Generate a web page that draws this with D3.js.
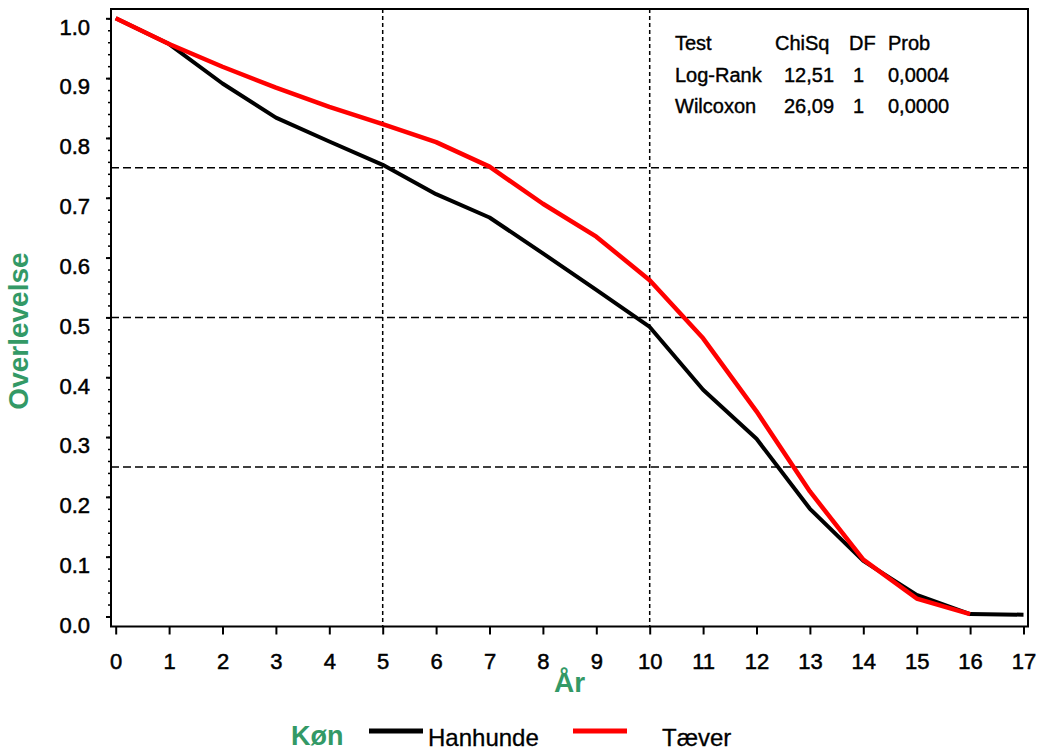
<!DOCTYPE html>
<html>
<head>
<meta charset="utf-8">
<script src="https://cdn.jsdelivr.net/npm/d3@7"></script>
<style>
  html, body { margin: 0; padding: 0; background: #fff; }
  svg { display: block; font-family: "Liberation Sans", Arial, sans-serif; }
</style>
</head>
<body>
<svg id="chart" width="1038" height="751"></svg>
<script>
// ---- data ----
const years = [0,1,2,3,4,5,6,7,8,9,10,11,12,13,14,15,16,17];
const hanhunde = [1.0,0.957,0.891,0.834,0.794,0.755,0.706,0.667,0.607,0.546,0.484,0.379,0.297,0.180,0.093,0.036,0.004,0.003];
const taever   = [1.0,0.957,0.919,0.884,0.852,0.823,0.793,0.752,0.690,0.635,0.562,0.465,0.343,0.209,0.095,0.030,0.004];
const xTicks = [0,1,2,3,4,5,6,7,8,9,10,11,12,13,14,15,16,17];
const yTicks = [0,0.1,0.2,0.3,0.4,0.5,0.6,0.7,0.8,0.9,1.0];
const yMinorTicks = d3.range(0, 51).map(i => i / 50);
const refY = [0.25, 0.5, 0.75];
const refX = [5, 10];
const seriesNames = ["Hanhunde", "Tæver"];
const seriesColors = ["#000000", "#ff0000"];
const tableHeader = ["Test", "ChiSq", "DF", "Prob"];
const tableRows = [["Log-Rank", "12,51", "1", "0,0004"], ["Wilcoxon", "26,09", "1", "0,0000"]];
const xTitle = "År", yTitle = "Overlevelse", legendTitle = "Køn";

// ---- layout ----
const frame = {left: 111, top: 9, right: 1028, bottom: 626.5};
const x = d3.scaleLinear().domain([0, 17]).range([115.7, 1023.5]);
const y = d3.scaleLinear().domain([0, 1]).range([616.5, 18.3]);
const green = "#339966";

const svg = d3.select("#chart");

// reference lines
svg.append("g").selectAll("line").data(refY).join("line")
  .attr("x1", frame.left).attr("x2", frame.right)
  .attr("y1", d => y(d)).attr("y2", d => y(d))
  .attr("stroke", "#000").attr("stroke-width", 1.5).attr("stroke-dasharray", "8,4");
svg.append("g").selectAll("line").data(refX).join("line")
  .attr("y1", frame.top).attr("y2", frame.bottom)
  .attr("x1", d => x(d)).attr("x2", d => x(d))
  .attr("stroke", "#000").attr("stroke-width", 1.5).attr("stroke-dasharray", "4,3");

// lines
const line = d3.line().x((d, i) => x(years[i])).y(d => y(d));
[hanhunde, taever].forEach((s, k) => {
  svg.append("path").datum(s)
    .attr("d", line).attr("fill", "none")
    .attr("stroke", seriesColors[k]).attr("stroke-width", k === 0 ? 4 : 4.5)
    .attr("stroke-linejoin", "round");
});

// frame
svg.append("rect")
  .attr("x", frame.left).attr("y", frame.top)
  .attr("width", frame.right - frame.left).attr("height", frame.bottom - frame.top)
  .attr("fill", "none").attr("stroke", "#000").attr("stroke-width", 2);

// y minor ticks
const gyMinor = svg.append("g").attr("transform", `translate(${frame.left},0)`)
  .call(d3.axisLeft(y).tickValues(yMinorTicks).tickSize(3).tickFormat(""));
gyMinor.select(".domain").remove();
gyMinor.selectAll("line").attr("stroke-width", 1.5);

// y major
const gy = svg.append("g").attr("transform", `translate(${frame.left},0)`)
  .call(d3.axisLeft(y).tickValues(yTicks).tickSize(5).tickPadding(16).tickFormat(d3.format(".1f")));
gy.select(".domain").remove();
gy.selectAll("line").attr("stroke-width", 2);
gy.selectAll("text").attr("dy", "0.72em")
  .attr("font-size", 22).attr("font-family", "Liberation Sans, Arial, sans-serif").attr("fill", "#000")
  .attr("stroke", "#000").attr("stroke-width", 0.5);

// x axis
const gx = svg.append("g").attr("transform", `translate(0,${frame.bottom})`)
  .call(d3.axisBottom(x).tickValues(xTicks).tickSize(8).tickPadding(19).tickFormat(d3.format("d")));
gx.select(".domain").remove();
gx.selectAll("line").attr("stroke-width", 2);
gx.selectAll("text")
  .attr("font-size", 22).attr("font-family", "Liberation Sans, Arial, sans-serif").attr("fill", "#000")
  .attr("stroke", "#000").attr("stroke-width", 0.5);

// axis titles
svg.append("text").attr("x", (frame.left + frame.right) / 2).attr("y", 692)
  .attr("text-anchor", "middle").attr("font-size", 28).attr("font-weight", "bold")
  .attr("fill", green).text(xTitle);
svg.append("text").attr("transform", "translate(28,331) rotate(-90)")
  .attr("text-anchor", "middle").attr("font-size", 28).attr("font-weight", "bold")
  .attr("fill", green).text(yTitle);

// stats table
const colX = [675, 775, 849, 888];
const valX = [675, 784, 853, 888];
const rowY = [50, 82, 113];
const tbl = svg.append("g").attr("font-size", 20).attr("fill", "#000")
  .attr("stroke", "#000").attr("stroke-width", 0.4);
tableHeader.forEach((t, i) => tbl.append("text").attr("x", colX[i]).attr("y", rowY[0]).text(t));
tableRows.forEach((r, j) => r.forEach((t, i) =>
  tbl.append("text").attr("x", valX[i]).attr("y", rowY[j + 1]).text(t)));

// legend
const lg = svg.append("g");
lg.append("text").attr("x", 291).attr("y", 745).attr("font-size", 27).attr("font-weight", "bold")
  .attr("fill", green).text(legendTitle);
const legItems = [{x1: 369, x2: 423, tx: 428}, {x1: 573, x2: 627, tx: 662}];
seriesNames.forEach((n, i) => {
  lg.append("line").attr("x1", legItems[i].x1).attr("x2", legItems[i].x2)
    .attr("y1", 731).attr("y2", 731).attr("stroke", seriesColors[i]).attr("stroke-width", 5);
  lg.append("text").attr("x", legItems[i].tx).attr("y", 746).attr("font-size", 24)
    .attr("fill", "#000").attr("stroke", "#000").attr("stroke-width", 0.3).text(n);
});
</script>
</body>
</html>
